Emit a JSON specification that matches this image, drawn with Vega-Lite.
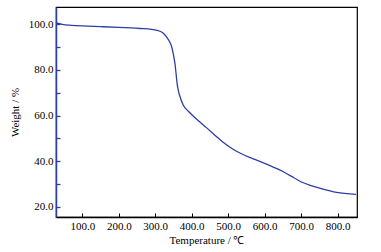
{
  "$schema": "https://vega.github.io/schema/vega-lite/v6.json",
  "width": 301,
  "height": 210,
  "autosize": {"type": "none"},
  "padding": {"left": 56, "top": 7, "right": 24, "bottom": 35},
  "background": "white",
  "config": {
    "view": {"stroke": "#000000", "strokeWidth": 1.2},
    "font": "Liberation Serif",
    "axis": {"labelFont": "Liberation Serif", "titleFont": "Liberation Serif"}
  },
  "data": {
    "values": [
      {"t": 28, "w": 100.5},
      {"t": 45, "w": 99.9},
      {"t": 70, "w": 99.5},
      {"t": 100, "w": 99.2},
      {"t": 150, "w": 98.9},
      {"t": 200, "w": 98.6},
      {"t": 258, "w": 98.1},
      {"t": 290, "w": 97.7},
      {"t": 313, "w": 96.9},
      {"t": 323, "w": 95.9},
      {"t": 331, "w": 94.4},
      {"t": 339, "w": 92.4},
      {"t": 345, "w": 90.1},
      {"t": 350, "w": 86.5},
      {"t": 354, "w": 82.8},
      {"t": 357, "w": 78.5},
      {"t": 360, "w": 74.0},
      {"t": 364, "w": 70.5},
      {"t": 368, "w": 68.2},
      {"t": 377, "w": 64.5},
      {"t": 390, "w": 62.0},
      {"t": 404, "w": 59.8},
      {"t": 420, "w": 57.5},
      {"t": 441, "w": 54.6},
      {"t": 465, "w": 51.2},
      {"t": 486, "w": 48.3},
      {"t": 510, "w": 45.6},
      {"t": 532, "w": 43.6},
      {"t": 560, "w": 41.6},
      {"t": 578, "w": 40.5},
      {"t": 610, "w": 38.4},
      {"t": 651, "w": 35.4},
      {"t": 680, "w": 32.8},
      {"t": 701, "w": 30.9},
      {"t": 725, "w": 29.4},
      {"t": 751, "w": 28.2},
      {"t": 797, "w": 26.4},
      {"t": 850, "w": 25.5}
    ]
  },
  "mark": {"type": "line", "color": "#2c3fa6", "strokeWidth": 1.3, "clip": true, "interpolate": "monotone"},
  "encoding": {
    "x": {
      "field": "t", "type": "quantitative",
      "scale": {"domain": [28, 853], "nice": false, "zero": false},
      "axis": {
        "title": "Temperature / ℃",
        "values": [100, 200, 300, 400, 500, 600, 700, 800],
        "format": ".1f",
        "grid": false,
        "tickSize": -4,
        "tickColor": "#000000",
        "domainColor": "#000000",
        "domainWidth": 1.5,
        "labelColor": "#000000",
        "labelFontSize": 11,
        "labelPadding": 7,
        "titleColor": "#000000",
        "titleFontSize": 11,
        "titleFontWeight": "normal",
        "titlePadding": 3
      }
    },
    "y": {
      "field": "w", "type": "quantitative",
      "scale": {"domain": [15.6, 107.5], "nice": false, "zero": false},
      "axis": {
        "title": "Weight / %",
        "values": [20, 30, 40, 50, 60, 70, 80, 90, 100],
        "labelExpr": "datum.value % 20 == 0 ? format(datum.value, '.1f') : ''",
        "grid": false,
        "tickSize": -4,
        "tickColor": "#2c3fa6",
        "tickWidth": 1.3,
        "domainColor": "#2c3fa6",
        "domainWidth": 1.5,
        "labelColor": "#000000",
        "labelFontSize": 11,
        "labelPadding": 7,
        "titleColor": "#000000",
        "titleFontSize": 11,
        "titleFontWeight": "normal",
        "titlePadding": 8
      }
    }
  }
}
